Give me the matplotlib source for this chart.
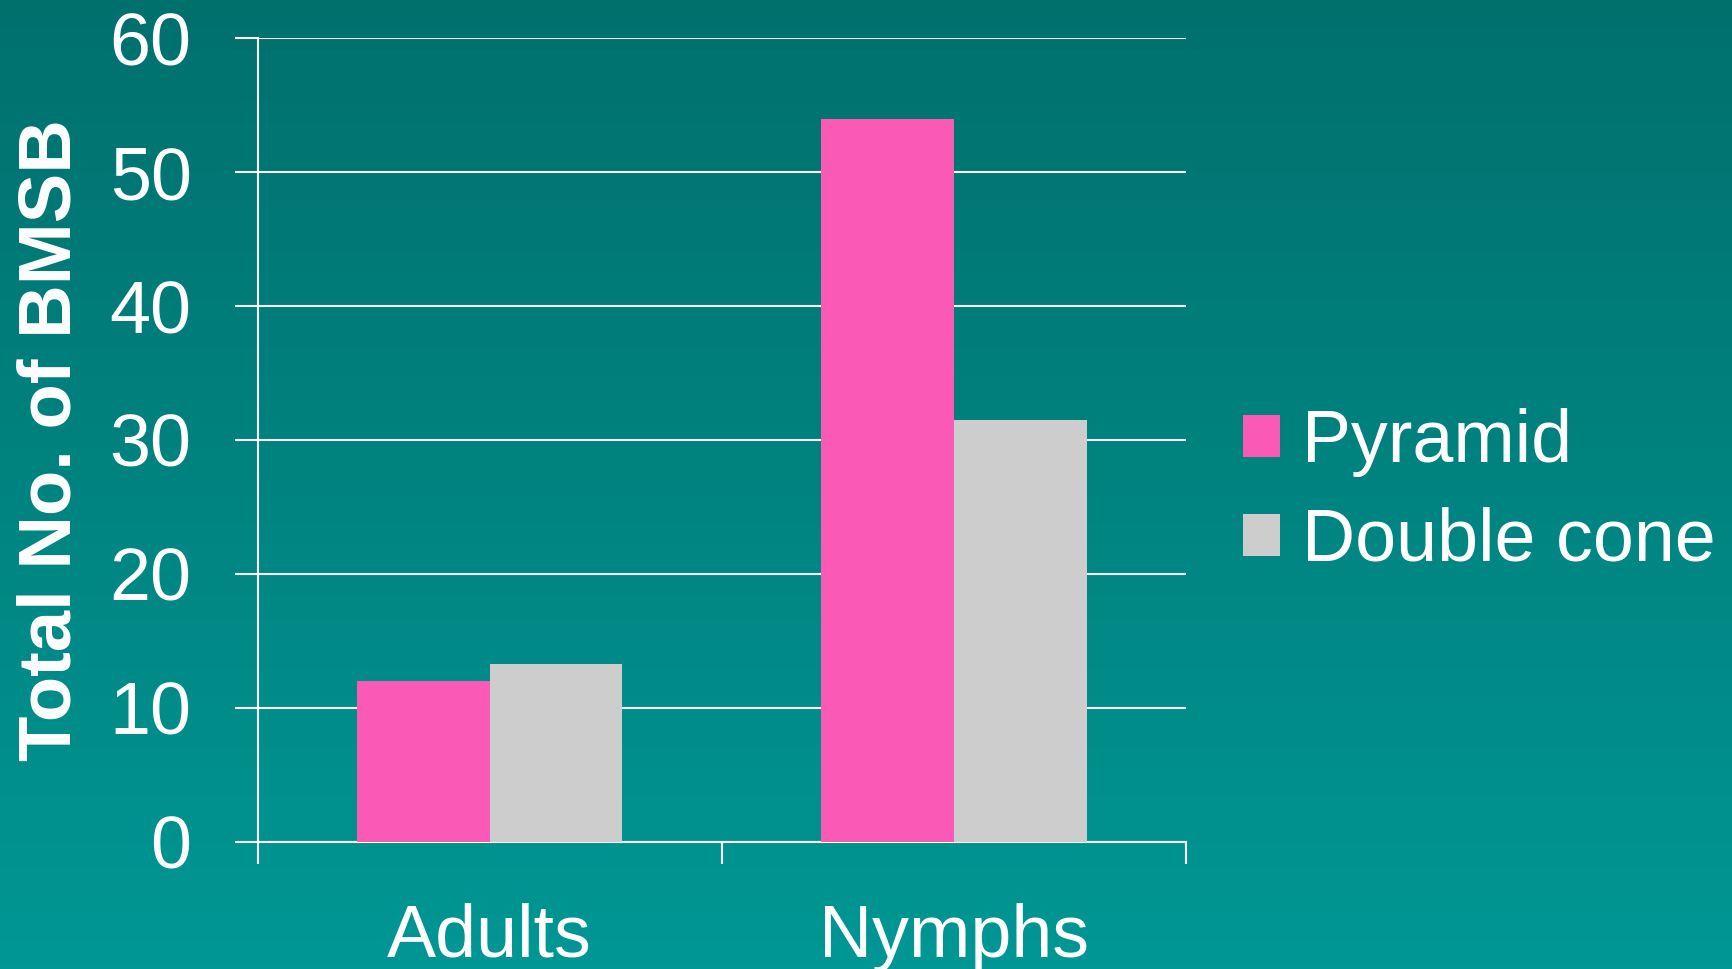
import numpy as np
import matplotlib
matplotlib.use("Agg")
import matplotlib.pyplot as plt
from matplotlib.colors import LinearSegmentedColormap

plt.rcParams["font.family"] = ["Liberation Sans", "DejaVu Sans"]

categories = ["Adults", "Nymphs"]
series_names = ["Pyramid", "Double cone"]
pyramid = [12.0, 54.0]
double_cone = [13.3, 31.5]
yticks = [0, 10, 20, 30, 40, 50, 60]

colors = ["#FA5AB6", "#CDCDCD"]
bg_top = "#00706D"
bg_bottom = "#009794"

fig = plt.figure(figsize=(17.33, 9.69), dpi=100)

# gradient background
bg = fig.add_axes([0, 0, 1, 1], zorder=-10)
grad = np.linspace(0, 1, 256).reshape(-1, 1)
cmap = LinearSegmentedColormap.from_list("bg", [bg_top, bg_bottom])
bg.imshow(grad, aspect="auto", cmap=cmap, extent=[0, 1, 0, 1], origin="upper")
bg.set_axis_off()

ax = fig.add_axes([0.1486, 0.1314, 0.5358, 0.8291])
ax.patch.set_alpha(0)

x = np.arange(len(categories))
w = 0.2857
ax.bar(x - w / 2, pyramid, w, color=colors[0], label=series_names[0], zorder=3)
ax.bar(x + w / 2, double_cone, w, color=colors[1], label=series_names[1], zorder=3)

ax.set_xlim(-0.5, 1.5)
ax.set_ylim(0, 60)
ax.set_yticks(yticks)
ax.yaxis.grid(True, color="white", lw=1.5, zorder=0)
ax.set_axisbelow(True)

for s in ["top", "right"]:
    ax.spines[s].set_visible(False)
for s in ["left", "bottom"]:
    ax.spines[s].set_color("white")
    ax.spines[s].set_linewidth(1.5)

ax.tick_params(axis="y", colors="white", labelsize=53, length=16.5, width=1.5, pad=31)
ax.set_xticks(x)
ax.set_xticklabels(categories)
ax.set_xticks([-0.5, 0.5, 1.5], minor=True)
ax.tick_params(axis="x", which="major", length=0, labelsize=53, labelcolor="white", pad=44)
ax.tick_params(axis="x", which="minor", length=15.5, width=1.5, color="white")

ax.set_ylabel("Total No. of BMSB", fontsize=53.5, fontweight="bold", color="white", labelpad=17)

ax.legend(loc="center left", bbox_to_anchor=(1.03, 0.435), frameon=False, fontsize=53,
          labelcolor="white", handlelength=0.5, handleheight=0.5, handletextpad=0.3,
          labelspacing=0.40, borderaxespad=0)

fig.savefig("out.png", dpi=100)
